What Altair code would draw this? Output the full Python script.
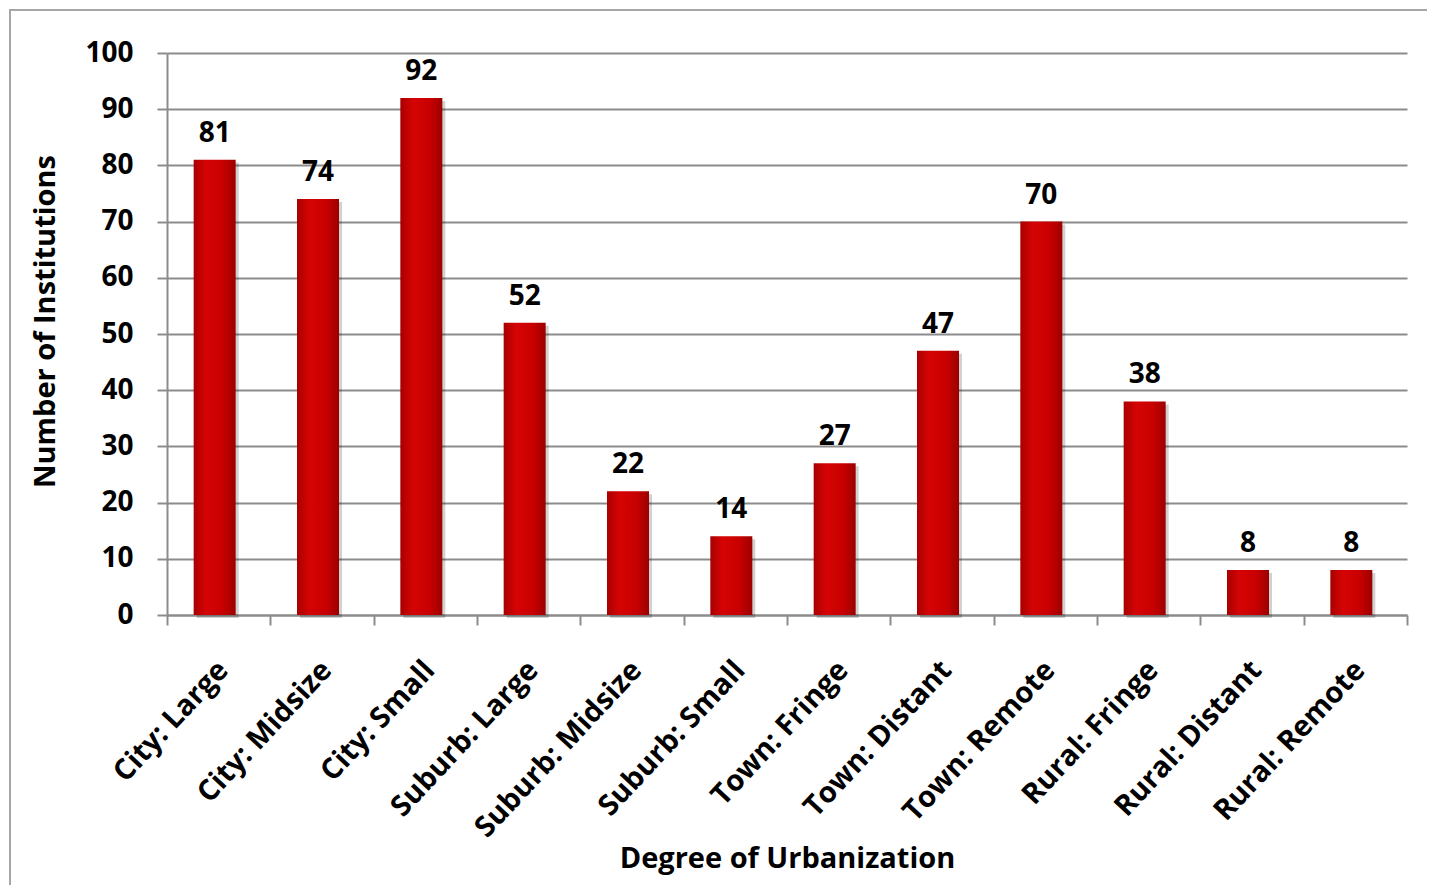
import altair as alt
import pandas as pd

categories = ["City: Large", "City: Midsize", "City: Small", "Suburb: Large",
              "Suburb: Midsize", "Suburb: Small", "Town: Fringe", "Town: Distant",
              "Town: Remote", "Rural: Fringe", "Rural: Distant", "Rural: Remote"]
values = [81, 74, 92, 52, 22, 14, 27, 47, 70, 38, 8, 8]
y_ticks = [0, 10, 20, 30, 40, 50, 60, 70, 80, 90, 100]

df = pd.DataFrame({"cat": categories, "val": values})

FONT = "Open Sans"
GRID = "#8c8c8c"

x_enc = alt.X("cat:N", sort=categories,
              scale=alt.Scale(paddingInner=0, paddingOuter=0),
              axis=alt.Axis(title="Degree of Urbanization", labelAngle=-47,
                            labelAlign="right", labelBaseline="middle",
                            labelPadding=40, labelOffset=4, labelFont=FONT, labelFontSize=29,
                            labelFontWeight="bold", labelColor="black", labelLimit=500,
                            tickBand="extent", tickSize=10, tickColor=GRID,
                            tickWidth=2, domainColor=GRID, domainWidth=2,
                            titleFont=FONT, titleFontSize=29, titleFontWeight="bold",
                            titleColor="black", titleBaseline="middle", titleY=243,
                            grid=False))
y_enc = alt.Y("val:Q", scale=alt.Scale(domain=[0, 100], nice=False),
              axis=alt.Axis(title="Number of Institutions", values=y_ticks,
                            labelPadding=24, labelFont=FONT, labelFontSize=28,
                            labelFontWeight="bold", labelColor="black",
                            tickSize=10, tickColor=GRID, tickWidth=2,
                            domainColor=GRID, domainWidth=2,
                            gridColor=GRID, gridWidth=2,
                            titleFont=FONT, titleFontSize=29, titleFontWeight="bold",
                            titleColor="black", titleBaseline="middle", titleX=-122,
                            titleY=268))

grad = alt.LinearGradient(gradient="linear", x1=0, x2=1, y1=0, y2=0,
                          stops=[alt.GradientStop(offset=0, color="#a80000"),
                                 alt.GradientStop(offset=0.3, color="#d60404"),
                                 alt.GradientStop(offset=0.7, color="#c80000"),
                                 alt.GradientStop(offset=1, color="#9c0000")])

shadow = alt.Chart(df).mark_bar(color="#000000", opacity=0.18, width=42,
                                xOffset=-1, yOffset=3).encode(x=x_enc, y=y_enc)
bars = alt.Chart(df).mark_bar(color=grad, width=42, xOffset=-4).encode(x=x_enc, y=y_enc)
labels = alt.Chart(df).mark_text(baseline="bottom", dy=-12, dx=-4, font=FONT, fontSize=28,
                                 fontWeight="bold", color="black").encode(
    x=x_enc, y=y_enc, text="val:Q")

border = alt.Chart(pd.DataFrame({"a": [0]})).mark_rect(
    fill=None, stroke="#a6a6a6", strokeWidth=2).encode(
    x=alt.value(-157), x2=alt.value(1262), y=alt.value(-43), y2=alt.value(880))

chart = alt.layer(border, shadow, bars, labels).properties(
    width=1240, height=562,
    autosize=alt.AutoSizeParams(type="none"),
    padding={"left": 159, "top": 45, "right": 20, "bottom": 270},
    background="white",
).configure_view(stroke=None)

chart.save("out.html", embed_options={"renderer": "svg", "actions": False})
